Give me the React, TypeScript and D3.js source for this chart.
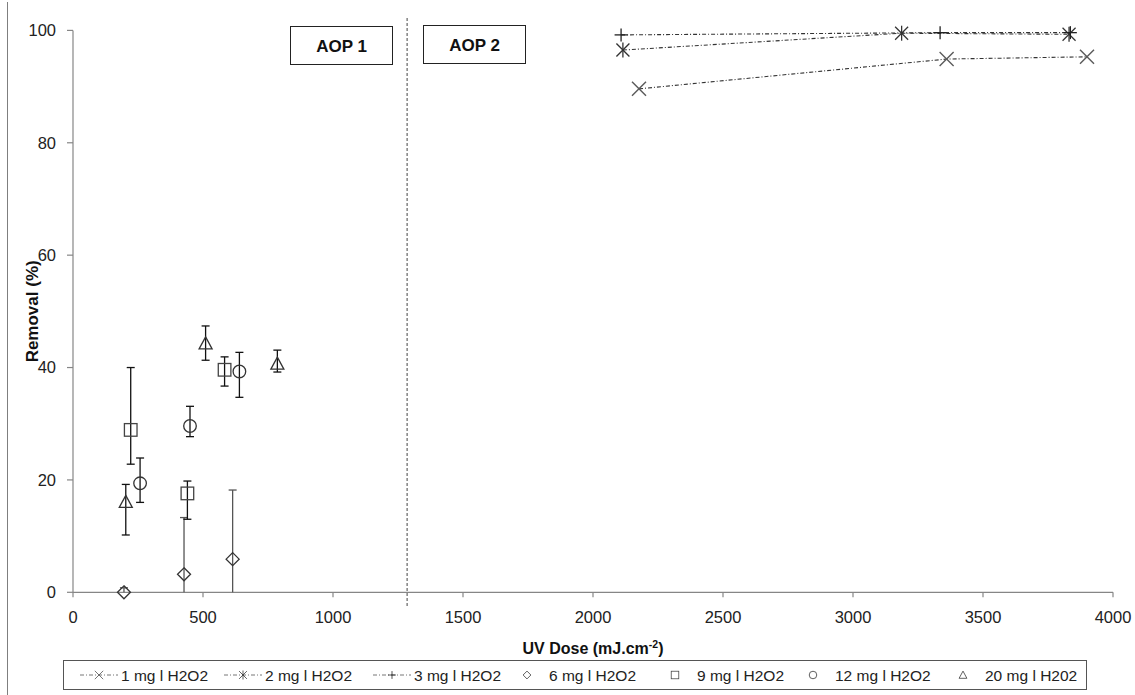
import React from 'react';
import * as d3 from 'd3';

const W = 1135;
const H = 695;

// AOP 2 series (lines with markers)
const dose1mg = [2177, 3360, 3900];
const removal1mg = [89.6, 94.9, 95.3];
const dose2mg = [2115, 3187, 3831];
const removal2mg = [96.5, 99.5, 99.3];
const dose3mg = [2108, 3335, 3836];
const removal3mg = [99.2, 99.6, 99.6];

// AOP 1 series (markers with error bars)
const dose6mg = [196, 427, 614];
const removal6mg = [0, 3.2, 5.9];
const errUp6mg = [0.8, 10.1, 12.3];
const errDown6mg = [0, 3.2, 5.9];

const dose9mg = [222, 440, 583];
const removal9mg = [28.9, 17.6, 39.6];
const errUp9mg = [11.1, 2.2, 2.3];
const errDown9mg = [6.1, 4.6, 2.9];

const dose12mg = [258, 450, 640];
const removal12mg = [19.4, 29.6, 39.3];
const errUp12mg = [4.5, 3.5, 3.4];
const errDown12mg = [3.4, 1.9, 4.6];

const dose20mg = [203, 510, 786];
const removal20mg = [16.1, 44.3, 40.7];
const errUp20mg = [3.1, 3.1, 2.4];
const errDown20mg = [5.9, 3.0, 1.5];

const legendLabels = [
  '1 mg l H2O2',
  '2 mg l H2O2',
  '3 mg l H2O2',
  '6 mg l H2O2',
  '9 mg l H2O2',
  '12 mg l H2O2',
  '20 mg l H202',
];
const xTicks = [0, 500, 1000, 1500, 2000, 2500, 3000, 3500, 4000];
const yTicks = [0, 20, 40, 60, 80, 100];
const aopBoundaryDose = 1285;
const regionLabels = ['AOP 1', 'AOP 2'];

const FONT = '"Liberation Sans", Arial, sans-serif';
const AXIS = '#868686';
const DASHDOT = '4,2,1,2';

const x = d3.scaleLinear().domain([0, 4000]).range([73, 1113]);
const y = d3.scaleLinear().domain([0, 100]).range([592.3, 30.4]);

type Shape = 'x' | 'star' | 'plus' | 'diamond' | 'square' | 'circle' | 'triangle';

function Marker({ shape, cx, cy }: { shape: Shape; cx: number; cy: number }) {
  const common = { fill: 'none', strokeWidth: 1.3 } as const;
  switch (shape) {
    case 'x': {
      const h = 7;
      return (
        <g stroke="#5a5a5a" strokeWidth={1.4}>
          <line x1={cx - h} y1={cy - h} x2={cx + h} y2={cy + h} />
          <line x1={cx - h} y1={cy + h} x2={cx + h} y2={cy - h} />
        </g>
      );
    }
    case 'star': {
      const h = 6.5;
      return (
        <g stroke="#333" strokeWidth={1.3}>
          <line x1={cx - h} y1={cy - h} x2={cx + h} y2={cy + h} />
          <line x1={cx - h} y1={cy + h} x2={cx + h} y2={cy - h} />
          <line x1={cx} y1={cy - h - 1} x2={cx} y2={cy + h + 1} />
        </g>
      );
    }
    case 'plus': {
      const h = 6.5;
      return (
        <g stroke="#222" strokeWidth={1.3}>
          <line x1={cx - h} y1={cy} x2={cx + h} y2={cy} />
          <line x1={cx} y1={cy - h} x2={cx} y2={cy + h} />
        </g>
      );
    }
    case 'diamond': {
      const h = 6.5;
      return (
        <polygon
          points={`${cx},${cy - h} ${cx + h},${cy} ${cx},${cy + h} ${cx - h},${cy}`}
          stroke="#333"
          {...common}
        />
      );
    }
    case 'square':
      return <rect x={cx - 6.3} y={cy - 6.3} width={12.6} height={12.6} stroke="#444" {...common} />;
    case 'circle':
      return <circle cx={cx} cy={cy} r={6.3} stroke="#333" {...common} />;
    case 'triangle': {
      const w = 6.5;
      return (
        <polygon
          points={`${cx},${cy - 6.5} ${cx + w},${cy + 5.5} ${cx - w},${cy + 5.5}`}
          stroke="#333"
          {...common}
        />
      );
    }
  }
  return null;
}

const lineSeries: { dose: number[]; removal: number[]; shape: Shape }[] = [
  { dose: dose1mg, removal: removal1mg, shape: 'x' },
  { dose: dose2mg, removal: removal2mg, shape: 'star' },
  { dose: dose3mg, removal: removal3mg, shape: 'plus' },
];

const errSeries: { dose: number[]; removal: number[]; up: number[]; down: number[]; shape: Shape; bar: string }[] = [
  { dose: dose6mg, removal: removal6mg, up: errUp6mg, down: errDown6mg, shape: 'diamond', bar: '#555' },
  { dose: dose9mg, removal: removal9mg, up: errUp9mg, down: errDown9mg, shape: 'square', bar: '#111' },
  { dose: dose12mg, removal: removal12mg, up: errUp12mg, down: errDown12mg, shape: 'circle', bar: '#111' },
  { dose: dose20mg, removal: removal20mg, up: errUp20mg, down: errDown20mg, shape: 'triangle', bar: '#111' },
];

const legendShapes: Shape[] = ['x', 'star', 'plus', 'diamond', 'square', 'circle', 'triangle'];
const legendMarkerX = [99, 243, 392, 527, 675, 813, 963];

export default function App() {
  const line = d3
    .line<[number, number]>()
    .x((d) => x(d[0]))
    .y((d) => y(d[1]));

  return (
    <svg
      width={W}
      height={H}
      style={{ position: 'absolute', left: 0, top: 0, background: '#fff' }}
      fontFamily={FONT}
    >
      <rect x={0} y={0} width={W} height={H} fill="#fff" />
      {/* chart frame edge */}
      <line x1={7.5} y1={2} x2={7.5} y2={H} stroke="#7f7f7f" strokeWidth={1} />

      {/* y axis */}
      <line x1={x(0)} y1={y(100)} x2={x(0)} y2={y(0)} stroke={AXIS} strokeWidth={1.2} />
      {yTicks.map((t) => (
        <g key={`yt${t}`}>
          <line x1={x(0) - 6} y1={y(t)} x2={x(0)} y2={y(t)} stroke={AXIS} strokeWidth={1.2} />
          <text x={56} y={y(t)} dy="0.36em" textAnchor="end" fontSize={16.5} fill="#222">
            {t}
          </text>
        </g>
      ))}

      {/* x axis */}
      <line x1={x(0)} y1={y(0)} x2={x(4000)} y2={y(0)} stroke={AXIS} strokeWidth={1.2} />
      {xTicks.map((t) => (
        <g key={`xt${t}`}>
          <line x1={x(t)} y1={y(0)} x2={x(t)} y2={y(0) + 5} stroke={AXIS} strokeWidth={1.2} />
          <text x={x(t)} y={623} textAnchor="middle" fontSize={16.5} fill="#222">
            {t}
          </text>
        </g>
      ))}

      {/* axis titles */}
      <text
        transform={`translate(38, ${(y(0) + y(100)) / 2}) rotate(-90)`}
        textAnchor="middle"
        fontSize={17}
        fontWeight="bold"
        fill="#111"
      >
        Removal (%)
      </text>
      <text x={(x(0) + x(4000)) / 2} y={654} textAnchor="middle" fontSize={16} fontWeight="bold" fill="#111">
        UV Dose (mJ.cm
        <tspan fontSize={10.5} dy={-6}>
          -2
        </tspan>
        <tspan dy={6}>)</tspan>
      </text>

      {/* AOP boundary */}
      <line
        x1={x(aopBoundaryDose)}
        y1={18}
        x2={x(aopBoundaryDose)}
        y2={606}
        stroke="#444"
        strokeWidth={1}
        strokeDasharray="3,2"
      />
      <rect x={290.5} y={26.5} width={102} height={38} fill="#fff" stroke="#222" strokeWidth={1} />
      <text x={341.5} y={51.5} textAnchor="middle" fontSize={17} fontWeight="bold" fill="#111">
        {regionLabels[0]}
      </text>
      <rect x={423.5} y={25.5} width={102} height={38} fill="#fff" stroke="#222" strokeWidth={1} />
      <text x={474.5} y={50.5} textAnchor="middle" fontSize={17} fontWeight="bold" fill="#111">
        {regionLabels[1]}
      </text>

      {/* error bar series */}
      {errSeries.map((s, si) => (
        <g key={`es${si}`}>
          {s.dose.map((d, i) => {
            const cx = x(d);
            const top = y(s.removal[i] + s.up[i]);
            const bot = y(s.removal[i] - s.down[i]);
            return (
              <g key={i} stroke={s.bar} strokeWidth={1.3}>
                <line x1={cx} y1={top} x2={cx} y2={bot} />
                <line x1={cx - 4} y1={top} x2={cx + 4} y2={top} />
                {s.down[i] < s.removal[i] && <line x1={cx - 4} y1={bot} x2={cx + 4} y2={bot} />}
              </g>
            );
          })}
          {s.dose.map((d, i) => (
            <Marker key={`m${i}`} shape={s.shape} cx={x(d)} cy={y(s.removal[i])} />
          ))}
        </g>
      ))}

      {/* line series */}
      {lineSeries.map((s, si) => {
        const pts = s.dose.map((d, i) => [d, s.removal[i]] as [number, number]);
        return (
          <g key={`ls${si}`}>
            <path d={line(pts) || ''} fill="none" stroke="#333" strokeWidth={1.1} strokeDasharray={DASHDOT} />
            {pts.map((p, i) => (
              <Marker key={i} shape={s.shape} cx={x(p[0])} cy={y(p[1])} />
            ))}
          </g>
        );
      })}

      {/* legend */}
      <rect x={63.5} y={660.5} width={1023} height={29} fill="#fff" stroke="#555" strokeWidth={1} />
      {legendLabels.map((label, i) => {
        const mx = legendMarkerX[i];
        const my = 675;
        return (
          <g key={`lg${i}`}>
            {i < 3 && (
              <line
                x1={mx - 19}
                y1={my}
                x2={mx + 19}
                y2={my}
                stroke="#777"
                strokeWidth={1}
                strokeDasharray={DASHDOT}
              />
            )}
            <g transform={`translate(${mx},${my}) scale(0.6) translate(${-mx},${-my})`}>
              <Marker shape={legendShapes[i]} cx={mx} cy={my} />
            </g>
            <text x={mx + 22} y={my} dy="0.36em" fontSize={15.5} fill="#222">
              {label}
            </text>
          </g>
        );
      })}
    </svg>
  );
}
